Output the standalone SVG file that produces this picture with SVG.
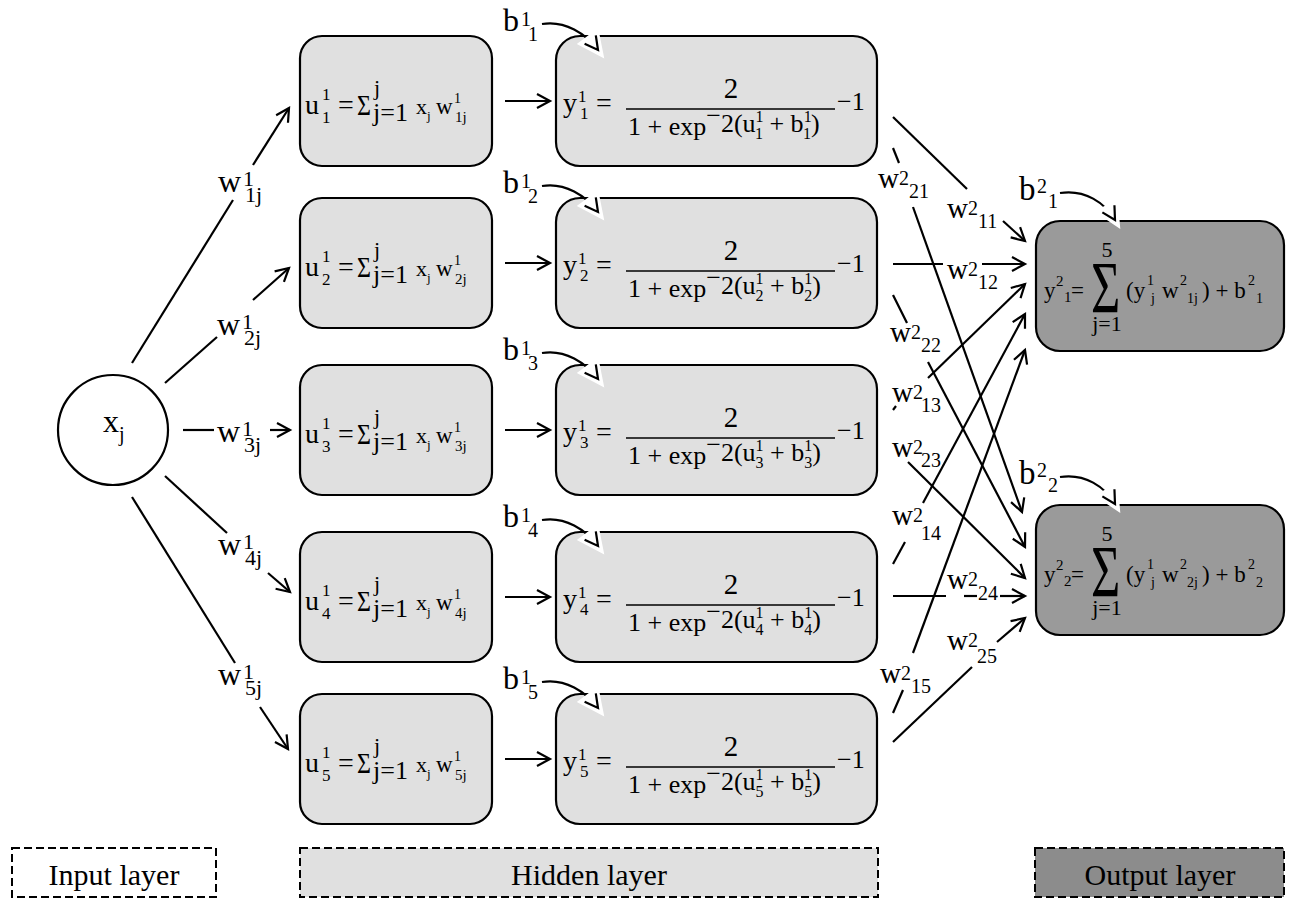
<svg xmlns="http://www.w3.org/2000/svg" width="1292" height="899" viewBox="0 0 1292 899" font-family="'Liberation Serif', 'Times New Roman', serif">
<style>
text { font-family: "Liberation Serif", "Times New Roman", serif; fill: #000; }
.hid { fill: #e0e0e0; stroke: #000; stroke-width: 2.2; }
.out { fill: #9a9a9a; stroke: #000; stroke-width: 2.2; }
.c line, .c path { stroke: #000; stroke-width: 2.2; fill: none; }
.a { marker-end: url(#ah); }
.b { marker-end: url(#bh); }
.leg { stroke: #000; stroke-width: 2; stroke-dasharray: 8 4; }
.bar { stroke: #000; stroke-width: 1.6; }
</style>
<defs>
<marker id="ah" viewBox="-1 -1 16 16" refX="13" refY="7" markerWidth="16" markerHeight="16" markerUnits="userSpaceOnUse" orient="auto" overflow="visible">
<path d="M0,0 L13,7 L0,14" fill="none" stroke="#000" stroke-width="2.2"/>
</marker>
<marker id="bh" viewBox="-4 -6 26 26" refX="13" refY="7" markerWidth="26" markerHeight="26" markerUnits="userSpaceOnUse" orient="auto" overflow="visible">
<path d="M-3,-4 L20,7 L-3,18 Z" fill="#fff" stroke="#fff" stroke-width="3"/>
<path d="M0,0 L13,7 L0,14" fill="none" stroke="#000" stroke-width="2.2"/>
</marker>
</defs>
<rect width="1292" height="899" fill="#fff"/>

<!-- Input node -->
<g id="input">
<circle cx="113" cy="430" r="55" fill="#fff" stroke="#000" stroke-width="2.2"/>
<text x="103" y="432" font-size="32">x</text>
<text x="119" y="441" font-size="20">j</text>
</g>

<!-- Hidden u nodes -->
<g id="u1">
<rect class="hid" x="300" y="36" width="192" height="130" rx="22"/>
<text x="305" y="114" font-size="28">u</text><text x="322" y="100" font-size="17">1</text><text x="322" y="123" font-size="17">1</text>
<text x="338" y="114" font-size="28">=</text><text transform="translate(357,115) scale(0.8,1)" font-size="30">Σ</text>
<text x="374" y="95" font-size="22">j</text><text x="373" y="121" font-size="26">j=1</text>
<text x="416" y="114" font-size="22">x</text><text x="427" y="120" font-size="13">j</text>
<text x="436" y="114" font-size="23">w</text><text x="454" y="103" font-size="14">1</text><text x="455" y="122" font-size="15">1j</text>
</g>
<g id="u2">
<rect class="hid" x="300" y="198" width="192" height="130" rx="22"/>
<text x="305" y="276" font-size="28">u</text><text x="322" y="262" font-size="17">1</text><text x="322" y="285" font-size="17">2</text>
<text x="338" y="276" font-size="28">=</text><text transform="translate(357,277) scale(0.8,1)" font-size="30">Σ</text>
<text x="374" y="257" font-size="22">j</text><text x="373" y="283" font-size="26">j=1</text>
<text x="416" y="276" font-size="22">x</text><text x="427" y="282" font-size="13">j</text>
<text x="436" y="276" font-size="23">w</text><text x="454" y="265" font-size="14">1</text><text x="455" y="284" font-size="15">2j</text>
</g>
<g id="u3">
<rect class="hid" x="300" y="365" width="192" height="130" rx="22"/>
<text x="305" y="443" font-size="28">u</text><text x="322" y="429" font-size="17">1</text><text x="322" y="452" font-size="17">3</text>
<text x="338" y="443" font-size="28">=</text><text transform="translate(357,444) scale(0.8,1)" font-size="30">Σ</text>
<text x="374" y="424" font-size="22">j</text><text x="373" y="450" font-size="26">j=1</text>
<text x="416" y="443" font-size="22">x</text><text x="427" y="449" font-size="13">j</text>
<text x="436" y="443" font-size="23">w</text><text x="454" y="432" font-size="14">1</text><text x="455" y="451" font-size="15">3j</text>
</g>
<g id="u4">
<rect class="hid" x="300" y="532" width="192" height="130" rx="22"/>
<text x="305" y="610" font-size="28">u</text><text x="322" y="596" font-size="17">1</text><text x="322" y="619" font-size="17">4</text>
<text x="338" y="610" font-size="28">=</text><text transform="translate(357,611) scale(0.8,1)" font-size="30">Σ</text>
<text x="374" y="591" font-size="22">j</text><text x="373" y="617" font-size="26">j=1</text>
<text x="416" y="610" font-size="22">x</text><text x="427" y="616" font-size="13">j</text>
<text x="436" y="610" font-size="23">w</text><text x="454" y="599" font-size="14">1</text><text x="455" y="618" font-size="15">4j</text>
</g>
<g id="u5">
<rect class="hid" x="300" y="694" width="192" height="130" rx="22"/>
<text x="305" y="772" font-size="28">u</text><text x="322" y="758" font-size="17">1</text><text x="322" y="781" font-size="17">5</text>
<text x="338" y="772" font-size="28">=</text><text transform="translate(357,773) scale(0.8,1)" font-size="30">Σ</text>
<text x="374" y="753" font-size="22">j</text><text x="373" y="779" font-size="26">j=1</text>
<text x="416" y="772" font-size="22">x</text><text x="427" y="778" font-size="13">j</text>
<text x="436" y="772" font-size="23">w</text><text x="454" y="761" font-size="14">1</text><text x="455" y="780" font-size="15">5j</text>
</g>

<!-- Hidden y nodes -->
<g id="y1">
<rect class="hid" x="556" y="36" width="321" height="130" rx="24"/>
<text x="563" y="112" font-size="28">y</text><text x="578" y="102" font-size="17">1</text><text x="580" y="119" font-size="17">1</text>
<text x="596" y="112" font-size="28">=</text>
<text x="731" y="98" font-size="29" text-anchor="middle">2</text>
<line class="bar" x1="626" y1="109" x2="835" y2="109"/>
<text x="628" y="135" font-size="26">1 + exp<tspan dy="-11">−</tspan><tspan dy="8">2(u</tspan><tspan font-size="16" dy="-10">1</tspan><tspan font-size="16" dx="-8" dy="17">1</tspan><tspan dy="-7"> + b</tspan><tspan font-size="16" dy="-10">1</tspan><tspan font-size="16" dx="-8" dy="17">1</tspan><tspan dy="-7">)</tspan></text>
<text x="837" y="110" font-size="26">−1</text>
</g>
<g id="y2">
<rect class="hid" x="556" y="198" width="321" height="130" rx="24"/>
<text x="563" y="274" font-size="28">y</text><text x="578" y="264" font-size="17">1</text><text x="580" y="281" font-size="17">2</text>
<text x="596" y="274" font-size="28">=</text>
<text x="731" y="260" font-size="29" text-anchor="middle">2</text>
<line class="bar" x1="626" y1="271" x2="835" y2="271"/>
<text x="628" y="297" font-size="26">1 + exp<tspan dy="-11">−</tspan><tspan dy="8">2(u</tspan><tspan font-size="16" dy="-10">1</tspan><tspan font-size="16" dx="-8" dy="17">2</tspan><tspan dy="-7"> + b</tspan><tspan font-size="16" dy="-10">1</tspan><tspan font-size="16" dx="-8" dy="17">2</tspan><tspan dy="-7">)</tspan></text>
<text x="837" y="272" font-size="26">−1</text>
</g>
<g id="y3">
<rect class="hid" x="556" y="365" width="321" height="130" rx="24"/>
<text x="563" y="441" font-size="28">y</text><text x="578" y="431" font-size="17">1</text><text x="580" y="448" font-size="17">3</text>
<text x="596" y="441" font-size="28">=</text>
<text x="731" y="427" font-size="29" text-anchor="middle">2</text>
<line class="bar" x1="626" y1="438" x2="835" y2="438"/>
<text x="628" y="464" font-size="26">1 + exp<tspan dy="-11">−</tspan><tspan dy="8">2(u</tspan><tspan font-size="16" dy="-10">1</tspan><tspan font-size="16" dx="-8" dy="17">3</tspan><tspan dy="-7"> + b</tspan><tspan font-size="16" dy="-10">1</tspan><tspan font-size="16" dx="-8" dy="17">3</tspan><tspan dy="-7">)</tspan></text>
<text x="837" y="439" font-size="26">−1</text>
</g>
<g id="y4">
<rect class="hid" x="556" y="532" width="321" height="130" rx="24"/>
<text x="563" y="608" font-size="28">y</text><text x="578" y="598" font-size="17">1</text><text x="580" y="615" font-size="17">4</text>
<text x="596" y="608" font-size="28">=</text>
<text x="731" y="594" font-size="29" text-anchor="middle">2</text>
<line class="bar" x1="626" y1="605" x2="835" y2="605"/>
<text x="628" y="631" font-size="26">1 + exp<tspan dy="-11">−</tspan><tspan dy="8">2(u</tspan><tspan font-size="16" dy="-10">1</tspan><tspan font-size="16" dx="-8" dy="17">4</tspan><tspan dy="-7"> + b</tspan><tspan font-size="16" dy="-10">1</tspan><tspan font-size="16" dx="-8" dy="17">4</tspan><tspan dy="-7">)</tspan></text>
<text x="837" y="606" font-size="26">−1</text>
</g>
<g id="y5">
<rect class="hid" x="556" y="694" width="321" height="130" rx="24"/>
<text x="563" y="770" font-size="28">y</text><text x="578" y="760" font-size="17">1</text><text x="580" y="777" font-size="17">5</text>
<text x="596" y="770" font-size="28">=</text>
<text x="731" y="756" font-size="29" text-anchor="middle">2</text>
<line class="bar" x1="626" y1="767" x2="835" y2="767"/>
<text x="628" y="793" font-size="26">1 + exp<tspan dy="-11">−</tspan><tspan dy="8">2(u</tspan><tspan font-size="16" dy="-10">1</tspan><tspan font-size="16" dx="-8" dy="17">5</tspan><tspan dy="-7"> + b</tspan><tspan font-size="16" dy="-10">1</tspan><tspan font-size="16" dx="-8" dy="17">5</tspan><tspan dy="-7">)</tspan></text>
<text x="837" y="768" font-size="26">−1</text>
</g>

<!-- Output nodes -->
<g id="out1">
<rect class="out" x="1036" y="221" width="248" height="130" rx="24"/>
<text x="1044" y="298" font-size="23">y</text><text x="1056" y="286" font-size="15">2</text><text x="1064" y="302" font-size="15">1</text>
<text x="1071" y="298" font-size="23">=</text>
<text transform="translate(1091,313) scale(0.68,1)" font-size="74">Σ</text>
<text x="1107" y="257" font-size="22" text-anchor="middle">5</text>
<text x="1107" y="331" font-size="22" text-anchor="middle">j=1</text>
<text x="1126" y="298" font-size="23">(y</text><text x="1147" y="285" font-size="14">1</text><text x="1151" y="303" font-size="14">j</text>
<text x="1162" y="298" font-size="23">w</text><text x="1180" y="285" font-size="14">2</text><text x="1187" y="303" font-size="14">1j</text>
<text x="1202" y="298" font-size="23">) + b</text><text x="1248" y="285" font-size="14">2</text><text x="1256" y="303" font-size="14">1</text>
</g>
<g id="out2">
<rect class="out" x="1036" y="505" width="248" height="130" rx="24"/>
<text x="1044" y="582" font-size="23">y</text><text x="1056" y="570" font-size="15">2</text><text x="1064" y="586" font-size="15">2</text>
<text x="1071" y="582" font-size="23">=</text>
<text transform="translate(1091,597) scale(0.68,1)" font-size="74">Σ</text>
<text x="1107" y="541" font-size="22" text-anchor="middle">5</text>
<text x="1107" y="615" font-size="22" text-anchor="middle">j=1</text>
<text x="1126" y="582" font-size="23">(y</text><text x="1147" y="569" font-size="14">1</text><text x="1151" y="587" font-size="14">j</text>
<text x="1162" y="582" font-size="23">w</text><text x="1180" y="569" font-size="14">2</text><text x="1187" y="587" font-size="14">2j</text>
<text x="1202" y="582" font-size="23">) + b</text><text x="1248" y="569" font-size="14">2</text><text x="1256" y="587" font-size="14">2</text>
</g>

<!-- Legend -->
<g id="legend-input">
<rect class="leg" x="12" y="848" width="204" height="49" fill="#fff"/>
<text x="114" y="885" font-size="30" text-anchor="middle">Input layer</text>
</g>
<g id="legend-hidden">
<rect class="leg" x="300" y="848" width="578" height="49" fill="#e0e0e0"/>
<text x="589" y="885" font-size="30" text-anchor="middle">Hidden layer</text>
</g>
<g id="legend-output">
<rect class="leg" x="1035" y="848" width="249" height="49" fill="#8c8c8c"/>
<text x="1160" y="885" font-size="30" text-anchor="middle">Output layer</text>
</g>

<!-- Connectors -->
<g id="connectors" class="c">
<line x1="132" y1="363" x2="233" y2="200"/>
<line class="a" x1="253" y1="165" x2="289" y2="108"/>
<line x1="165" y1="383" x2="217" y2="337"/>
<line class="a" x1="253" y1="300" x2="289" y2="268"/>
<line x1="183" y1="430" x2="214" y2="430"/>
<line class="a" x1="270" y1="430" x2="290" y2="430"/>
<line x1="165" y1="476" x2="227" y2="533"/>
<line class="a" x1="268" y1="573" x2="290" y2="592"/>
<line x1="132" y1="497" x2="235" y2="663"/>
<line class="a" x1="260" y1="707" x2="288" y2="749"/>
<line class="a" x1="505" y1="101" x2="550" y2="101"/>
<line class="a" x1="505" y1="263" x2="550" y2="263"/>
<line class="a" x1="505" y1="430" x2="550" y2="430"/>
<line class="a" x1="505" y1="597" x2="550" y2="597"/>
<line class="a" x1="505" y1="759" x2="550" y2="759"/>
<path class="b" d="M542,24 C565,20 586,34 598,50"/>
<path class="b" d="M542,186 C565,182 586,196 598,212"/>
<path class="b" d="M542,353 C565,349 586,363 598,379"/>
<path class="b" d="M542,520 C565,516 586,530 598,546"/>
<path class="b" d="M542,682 C565,678 586,692 598,708"/>
<path class="b" d="M1060,193 C1085,189 1105,203 1115,220"/>
<path class="b" d="M1060,477 C1085,473 1105,487 1115,504"/>
<line x1="893" y1="117" x2="967" y2="189"/>
<line class="a" x1="1003" y1="221" x2="1025" y2="241"/>
<line x1="893" y1="264" x2="943" y2="264"/>
<line class="a" x1="982" y1="264" x2="1025" y2="264"/>
<line x1="893" y1="410" x2="896" y2="406"/>
<line class="a" x1="928" y1="378" x2="1025" y2="284"/>
<line x1="893" y1="564" x2="905" y2="542"/>
<line class="a" x1="923" y1="503" x2="1025" y2="314"/>
<line x1="893" y1="713" x2="903" y2="690"/>
<line class="a" x1="913" y1="653" x2="1025" y2="350"/>
<line x1="893" y1="148" x2="899" y2="163"/>
<line class="a" x1="913" y1="207" x2="1022" y2="512"/>
<line x1="893" y1="295" x2="907" y2="323"/>
<line class="a" x1="928" y1="362" x2="1025" y2="547"/>
<line class="a" x1="908" y1="462" x2="1025" y2="578"/>
<line x1="893" y1="596" x2="946" y2="596"/>
<line x1="964" y1="596" x2="977" y2="596"/>
<line class="a" x1="1000" y1="596" x2="1025" y2="596"/>
<line x1="893" y1="742" x2="972" y2="667"/>
<line class="a" x1="997" y1="642" x2="1025" y2="618"/>
</g>

<!-- Connector labels -->
<g id="labels">
<text x="218" y="192" font-size="32">w</text><text x="243" y="186" font-size="22">1</text><text x="245" y="202" font-size="22">1j</text>
<text x="217" y="335" font-size="32">w</text><text x="242" y="329" font-size="22">1</text><text x="244" y="345" font-size="22">2j</text>
<text x="217" y="442" font-size="32">w</text><text x="242" y="436" font-size="22">1</text><text x="244" y="452" font-size="22">3j</text>
<text x="218" y="555" font-size="32">w</text><text x="243" y="549" font-size="22">1</text><text x="245" y="565" font-size="22">4j</text>
<text x="218" y="685" font-size="32">w</text><text x="243" y="679" font-size="22">1</text><text x="245" y="695" font-size="22">5j</text>

<text x="503" y="31" font-size="32">b</text><text x="521" y="26" font-size="20">1</text><text x="528" y="41" font-size="20">1</text>
<text x="503" y="193" font-size="32">b</text><text x="521" y="188" font-size="20">1</text><text x="528" y="203" font-size="20">2</text>
<text x="503" y="360" font-size="32">b</text><text x="521" y="355" font-size="20">1</text><text x="528" y="370" font-size="20">3</text>
<text x="503" y="527" font-size="32">b</text><text x="521" y="522" font-size="20">1</text><text x="528" y="537" font-size="20">4</text>
<text x="503" y="689" font-size="32">b</text><text x="521" y="684" font-size="20">1</text><text x="528" y="699" font-size="20">5</text>

<text x="1019" y="200" font-size="33">b</text><text x="1037" y="193" font-size="20">2</text><text x="1048" y="208" font-size="20">1</text>
<text x="1019" y="484" font-size="33">b</text><text x="1037" y="477" font-size="20">2</text><text x="1048" y="492" font-size="20">2</text>

<text x="878" y="188" font-size="29">w</text><text x="899" y="185" font-size="20">2</text><text x="909" y="198" font-size="20">21</text>
<text x="947" y="218" font-size="29">w</text><text x="968" y="215" font-size="20">2</text><text x="978" y="228" font-size="20">11</text>
<text x="947" y="279" font-size="29">w</text><text x="968" y="276" font-size="20">2</text><text x="978" y="289" font-size="20">12</text>
<text x="890" y="342" font-size="29">w</text><text x="911" y="339" font-size="20">2</text><text x="921" y="352" font-size="20">22</text>
<text x="892" y="402" font-size="29">w</text><text x="913" y="399" font-size="20">2</text><text x="921" y="412" font-size="20">13</text>
<text x="892" y="457" font-size="29">w</text><text x="913" y="454" font-size="20">2</text><text x="921" y="467" font-size="20">23</text>
<text x="892" y="525" font-size="29">w</text><text x="913" y="522" font-size="20">2</text><text x="921" y="540" font-size="20">14</text>
<text x="947" y="589" font-size="29">w</text><text x="968" y="586" font-size="20">2</text><text x="978" y="600" font-size="20">24</text>
<text x="947" y="650" font-size="29">w</text><text x="968" y="647" font-size="20">2</text><text x="977" y="663" font-size="20">25</text>
<text x="880" y="683" font-size="29">w</text><text x="901" y="680" font-size="20">2</text><text x="911" y="693" font-size="20">15</text>
</g>
</svg>
